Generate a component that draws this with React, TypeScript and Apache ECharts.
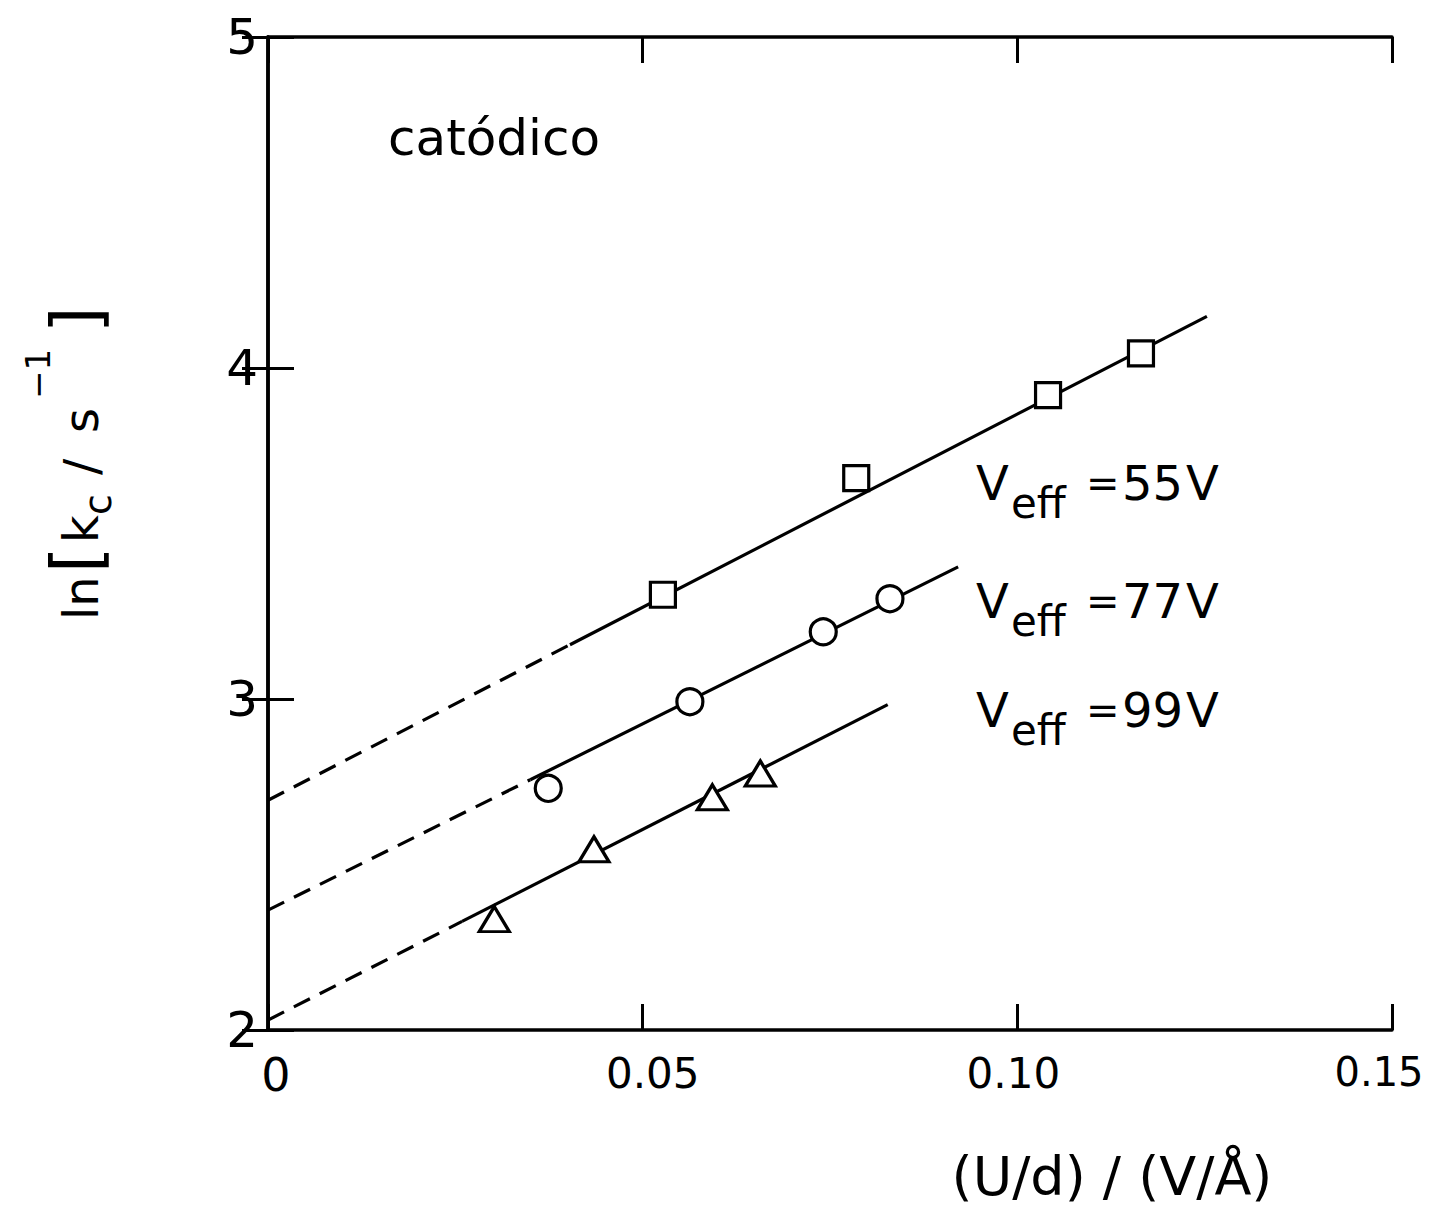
import React, { useEffect, useRef } from "react";
import * as echarts from "echarts";

// ---- data ----
const xTicks = [0, 0.05, 0.1, 0.15];
const yTicks = [2, 3, 4, 5];

// Veff = 55 V (squares)
const sq55X = [0.0527, 0.0785, 0.1041, 0.1165];
const sq55Y = [3.315, 3.667, 3.918, 4.044];
// Veff = 77 V (circles)
const ci77X = [0.0374, 0.0563, 0.0741, 0.083];
const ci77Y = [2.73, 2.992, 3.203, 3.303];
// Veff = 99 V (triangles)
const tr99X = [0.0302, 0.0435, 0.0593, 0.0657];
const tr99Y = [2.335, 2.546, 2.703, 2.775];

// fitted lines: [start, break, end] (dashed from start to break, solid from break to end)
const fit55X = [0, 0.0403, 0.1253];
const fit55Y = [2.694, 3.164, 4.156];
const fit77X = [0, 0.035, 0.0921];
const fit77Y = [2.362, 2.756, 3.399];
const fit99X = [0, 0.0259, 0.0827];
const fit99Y = [2.03, 2.328, 2.983];

const seriesLabels = ["55", "77", "99"];
const labelCapBottoms = [500, 618, 727];

const FONT = "DejaVu Sans";

const zip = (xs: number[], ys: number[]) => xs.map((x, i) => [x, ys[i]]);

export default function App() {
  const ref = useRef<HTMLDivElement>(null);
  useEffect(() => {
    if (!ref.current) return;
    const chart = echarts.init(ref.current, undefined, { renderer: "svg" });

    const solid = { color: "#000", width: 3.2, type: "solid" as const };
    const dashed = { color: "#000", width: 3.2, type: [18, 11] as any };
    const lineSeries = (xs: number[], ys: number[], from: number, to: number, style: any) => ({
      type: "line",
      data: zip(xs.slice(from, to + 1), ys.slice(from, to + 1)),
      symbol: "none",
      lineStyle: style,
      silent: true,
      z: 2,
    });
    const pointSeries = (xs: number[], ys: number[], symbol: string, size: any) => ({
      type: "scatter",
      data: zip(xs, ys),
      symbol,
      symbolSize: size,
      itemStyle: { color: "#fff", borderColor: "#000", borderWidth: 3.2, opacity: 1 },
      z: 5,
    });

    const textEl = (text: string, x: number, y: number, size: number, align = "left", vAlign = "middle") => ({
      type: "text",
      x,
      y,
      style: {
        text,
        fontSize: size,
        fontFamily: FONT,
        fill: "#000",
        align,
        verticalAlign: vAlign,
        textAlign: align,
        textVerticalAlign: vAlign,
      },
    });

    const graphics: any[] = [];
    graphics.push(textEl("catódico", 388, 138, 50));
    seriesLabels.forEach((n, i) => {
      const base = labelCapBottoms[i];
      const mid = base - 0.346 * 48;
      graphics.push(textEl("V", 976, mid, 48));
      graphics.push(textEl("eff", 1011, base + 18 - 0.346 * 42, 42));
      graphics.push(textEl("=", 1086, mid, 40));
      graphics.push(textEl(n, 1122, mid, 48));
      graphics.push(textEl("V", 1186, mid, 48));
    });
    // y axis title, rotated (reads bottom to top)
    graphics.push({
      type: "group",
      x: 0,
      y: 625,
      rotation: Math.PI / 2,
      children: [
        textEl("ln", 5, 81, 48),
        textEl("[", 52, 76, 68),
        textEl("k", 82, 81, 48),
        textEl("c", 110, 98, 38),
        textEl("/", 150, 81, 48),
        textEl("s", 192, 81, 48),
        textEl("−1", 226, 38, 34),
        textEl("]", 292, 76, 68),
      ],
    });
    graphics.push(textEl("(U/d) / (V/Å)", 1112, 1176, 54, "center", "middle"));

    const axisLine = { show: true, lineStyle: { color: "#000", width: 3.5 } };
    const tick = { show: true, inside: true, length: 26, lineStyle: { color: "#000", width: 3 } };

    const xLabelKeys: Record<string, string> = { "0": "a", "0.05": "b", "0.10": "c", "0.15": "d" };

    chart.setOption({
      animation: false,
      backgroundColor: "#fff",
      textStyle: { fontFamily: FONT },
      grid: { left: 268, top: 37, right: 39, bottom: 185, containLabel: false, outerBoundsMode: "none" } as any,
      xAxis: [
        {
          type: "value",
          position: "bottom",
          min: xTicks[0],
          max: xTicks[xTicks.length - 1],
          interval: 0.05,
          axisLine,
          axisTick: tick,
          splitLine: { show: false },
          axisLabel: {
            color: "#000",
            fontSize: 42,
            fontFamily: FONT,
            margin: 22,
            formatter: (v: number) => {
              const s = v === 0 ? "0" : v.toFixed(2);
              return "{" + (xLabelKeys[s] || "c") + "|" + s + "}";
            },
            rich: {
              a: { fontSize: 46, fontFamily: FONT, color: "#000", padding: [0, 0, 0, 16] },
              b: { fontSize: 42, fontFamily: FONT, color: "#000", padding: [0, 0, 0, 20] },
              c: { fontSize: 42, fontFamily: FONT, color: "#000", padding: [0, 8, 0, 0] },
              d: { fontSize: 40, fontFamily: FONT, color: "#000", padding: [0, 26, 0, 0] },
            },
          },
        },
        {
          type: "value",
          position: "top",
          min: xTicks[0],
          max: xTicks[xTicks.length - 1],
          interval: 0.05,
          axisLine,
          axisTick: tick,
          splitLine: { show: false },
          axisLabel: { show: false },
        },
      ],
      yAxis: [
        {
          type: "value",
          position: "left",
          min: yTicks[0],
          max: yTicks[yTicks.length - 1],
          interval: 1,
          axisLine,
          axisTick: tick,
          splitLine: { show: false },
          axisLabel: { color: "#000", fontSize: 50, fontFamily: FONT, margin: 10 },
        },
        {
          type: "value",
          position: "right",
          min: yTicks[0],
          max: yTicks[yTicks.length - 1],
          interval: 1,
          axisLine,
          axisTick: tick,
          splitLine: { show: false },
          axisLabel: { show: false },
        },
      ],
      series: [
        lineSeries(fit55X, fit55Y, 0, 1, dashed),
        lineSeries(fit55X, fit55Y, 1, 2, solid),
        lineSeries(fit77X, fit77Y, 0, 1, dashed),
        lineSeries(fit77X, fit77Y, 1, 2, solid),
        lineSeries(fit99X, fit99Y, 0, 1, dashed),
        lineSeries(fit99X, fit99Y, 1, 2, solid),
        pointSeries(sq55X, sq55Y, "rect", [25, 25]),
        pointSeries(ci77X, ci77Y, "circle", 26),
        pointSeries(tr99X, tr99Y, "triangle", [30, 25]),
      ],
      graphic: graphics,
    });
    return () => chart.dispose();
  }, []);
  return (
    <div
      ref={ref}
      style={{ position: "absolute", left: 0, top: 0, width: 1431, height: 1215, background: "#fff" }}
    />
  );
}
